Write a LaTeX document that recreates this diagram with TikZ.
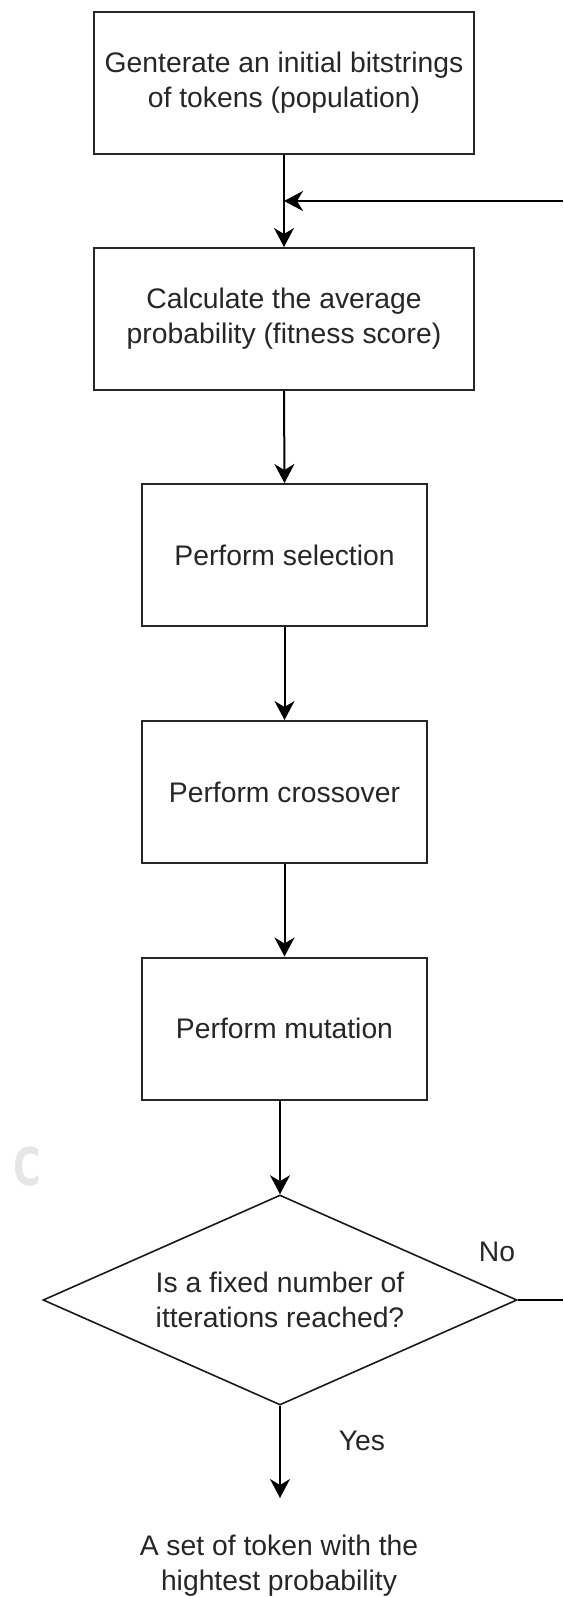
\documentclass[tikz,border=0pt]{standalone}
\usepackage{fontspec}
\setmainfont{Liberation Sans}
\newfontfamily\markfont{DejaVu Sans}
\usepackage{tikz}
\usetikzlibrary{shapes.geometric,arrows.meta}

\begin{document}
\begin{tikzpicture}[x=0.5pt,y=-0.5pt,
    every node/.style={font=\fontsize{14.15}{17.5}\selectfont,text=black!85},
    box/.style={draw=black!85,line width=1pt,minimum height=71pt,align=center,inner sep=0pt},
    bigbox/.style={box,minimum width=190pt},
    smallbox/.style={box,minimum width=142.5pt},
    decision/.style={diamond,draw=black!90,line width=0.8pt,aspect=2.26,minimum width=237pt,minimum height=105pt,inner sep=0pt,align=center},
    flow/.style={line width=1pt,-{Stealth[length=9.5pt,width=10pt,inset=3pt]}}]

% Fix the page size
\useasboundingbox (0,0) rectangle (563,1597);

% Draw the process boxes
\node[bigbox] (init) at (284,83) {Genterate an initial bitstrings\\of tokens (population)};
\node[bigbox] (fitness) at (284,319) {Calculate the average\\probability (fitness score)};
\node[smallbox] (select) at (284.5,555) {Perform selection};
\node[smallbox] (cross) at (284.5,792) {Perform crossover};
\node[smallbox] (mutate) at (284.5,1028.5) {Perform mutation};

% Draw the decision
\node[decision] (check) at (280,1300) {Is a fixed number of\\itterations reached?};

% Add the result and the labels
\node[align=center] (result) at (279,1566) {A set of token with the\\hightest probability};
\node (yes) at (362,1441) {Yes};
\node (no) at (497,1252) {No};
\node[text=black!10,font=\markfont\bfseries\fontsize{26}{26}\selectfont] (mark) at (27.5,1167) {\scalebox{0.72}[1]{C}};

% Loose ends of the loop
\coordinate (noend) at (563,1300);
\coordinate (loopin) at (563,201);
\coordinate (yesend) at (280,1498);

% Draw the arrows
\draw[flow] (init.south) -- (fitness.north);
\draw[flow] (fitness.south) -- (select.north);
\draw[flow] (select.south) -- (cross.north);
\draw[flow] (cross.south) -- (mutate.north);
\draw[flow] (mutate.south -| check.north) -- (check.north);
\draw[flow] (check.south) -- (yesend);
\draw[line width=1pt] (check.east) -- (noend);
\draw[flow] (loopin) -- (loopin -| init);

\end{tikzpicture}
\end{document}
